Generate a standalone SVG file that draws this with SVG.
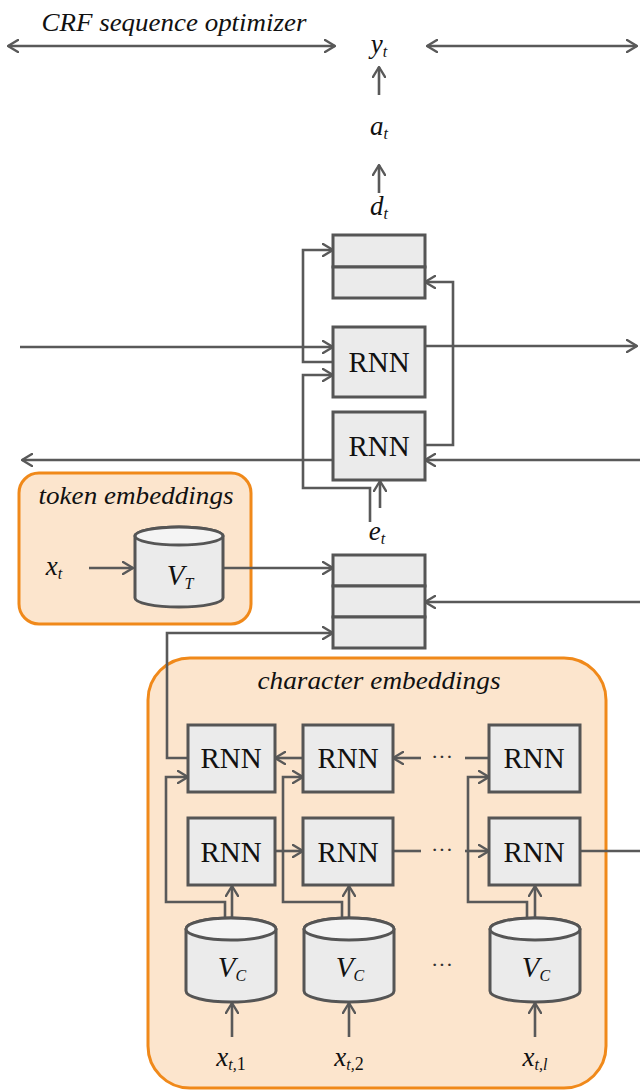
<svg xmlns="http://www.w3.org/2000/svg" width="640" height="1092" viewBox="0 0 640 1092">
<style>
.box{fill:#ebebeb;stroke:#555;stroke-width:3}
.cyl{fill:#ebebeb;stroke:#555;stroke-width:3}
.cyltop{fill:#f4f4f4;stroke:#555;stroke-width:3}
.ln{fill:none;stroke:#595959;stroke-width:2.6}
.arr{marker-end:url(#ah)}
.dbl{marker-start:url(#ah);marker-end:url(#ah)}
.grp{fill:#fce5cd;stroke:#f0891a;stroke-width:3}
.rnn{font-family:'Liberation Serif','Times New Roman',Times,serif;font-size:29px;fill:#111;text-anchor:middle}
.it{font-family:'Liberation Serif','Times New Roman',Times,serif;font-style:italic;fill:#111;text-anchor:middle}
.sub{font-size:16px}
.dots{font-family:'Liberation Serif','Times New Roman',serif;font-size:22px;fill:#333;text-anchor:middle}
</style>
<defs>
<marker id="ah" viewBox="0 0 12 14" markerWidth="12" markerHeight="14" markerUnits="userSpaceOnUse" refX="11" refY="7" orient="auto-start-reverse">
<path d="M1,1 L11,7 L1,13" fill="none" stroke="#595959" stroke-width="2.4" stroke-linecap="round" stroke-linejoin="round"/>
</marker>
</defs>
<rect width="640" height="1092" fill="#fff"/>

<g id="group-token">
<rect class="grp" x="19" y="473" width="232" height="151" rx="20"/>
<text class="it" x="136" y="504" font-size="25" textLength="195" lengthAdjust="spacingAndGlyphs">token embeddings</text>
</g>
<g id="group-char">
<rect class="grp" x="148" y="658" width="458" height="430" rx="42"/>
<text class="it" x="379" y="689" font-size="25" textLength="243" lengthAdjust="spacingAndGlyphs">character embeddings</text>
</g>

<g id="connectors">
<line class="ln dbl" x1="8" y1="46" x2="335" y2="46"/>
<line class="ln dbl" x1="427" y1="46" x2="637" y2="46"/>
<line class="ln arr" x1="379" y1="95" x2="379" y2="67"/>
<line class="ln arr" x1="379" y1="193" x2="379" y2="165"/>
<line class="ln arr" x1="20" y1="347" x2="333" y2="347"/>
<line class="ln arr" x1="425" y1="346" x2="637" y2="346"/>
<line class="ln arr" x1="640" y1="460" x2="425" y2="460"/>
<line class="ln arr" x1="333" y1="460" x2="22" y2="460"/>
<polyline class="ln arr" points="333,362 303,362 303,250 333,250"/>
<polyline class="ln arr" points="425,445 453,445 453,282 425,282"/>
<polyline class="ln arr" points="370,522 370,488 303,488 303,375 333,375"/>
<line class="ln arr" x1="380" y1="508" x2="380" y2="481"/>
<line class="ln arr" x1="89" y1="568" x2="133" y2="568"/>
<line class="ln arr" x1="224" y1="568" x2="333" y2="568"/>
<line class="ln arr" x1="640" y1="602" x2="425" y2="602"/>
<polyline class="ln arr" points="188,758 167,758 167,633 333,633"/>
<line class="ln arr" x1="303" y1="758" x2="275" y2="758"/>
<line class="ln" x1="489" y1="758" x2="465" y2="758"/>
<line class="ln arr" x1="421" y1="758" x2="393" y2="758"/>
<line class="ln arr" x1="275" y1="851" x2="303" y2="851"/>
<line class="ln" x1="393" y1="851" x2="421" y2="851"/>
<line class="ln arr" x1="465" y1="851" x2="489" y2="851"/>
<line class="ln" x1="580" y1="851" x2="640" y2="851"/>
<polyline class="ln arr" points="225,918 225,902 166,902 166,777 188,777"/>
<polyline class="ln arr" points="342,918 342,902 283,902 283,777 303,777"/>
<polyline class="ln arr" points="527,918 527,902 468,902 468,777 489,777"/>
<line class="ln arr" x1="232" y1="918" x2="232" y2="886"/>
<line class="ln arr" x1="349" y1="918" x2="349" y2="886"/>
<line class="ln arr" x1="535" y1="918" x2="535" y2="886"/>
<line class="ln arr" x1="232" y1="1037" x2="232" y2="1003"/>
<line class="ln arr" x1="349" y1="1037" x2="349" y2="1003"/>
<line class="ln arr" x1="535" y1="1037" x2="535" y2="1003"/>
</g>

<g id="crf-label">
<text class="it" x="174" y="31" font-size="26" textLength="265" lengthAdjust="spacingAndGlyphs">CRF sequence optimizer</text>
</g>
<g id="y-t"><text class="it" x="379" y="53" font-size="27">y<tspan class="sub" dy="4">t</tspan></text></g>
<g id="a-t"><text class="it" x="379" y="135" font-size="27">a<tspan class="sub" dy="4">t</tspan></text></g>
<g id="d-t">
<text class="it" x="379" y="215" font-size="27">d<tspan class="sub" dy="4">t</tspan></text>
<rect class="box" x="333" y="235" width="92" height="32"/>
<rect class="box" x="333" y="267" width="92" height="31"/>
</g>
<g id="rnn-fwd">
<rect class="box" x="333" y="327" width="92" height="70"/>
<text class="rnn" x="379" y="372">RNN</text>
</g>
<g id="rnn-bwd">
<rect class="box" x="333" y="412" width="92" height="68"/>
<text class="rnn" x="379" y="456">RNN</text>
</g>
<g id="e-t">
<text class="it" x="377" y="540" font-size="27">e<tspan class="sub" dy="4">t</tspan></text>
<rect class="box" x="333" y="555" width="92" height="31"/>
<rect class="box" x="333" y="586" width="92" height="31"/>
<rect class="box" x="333" y="617" width="92" height="31"/>
</g>
<g id="x-t"><text class="it" x="54" y="575" font-size="27">x<tspan class="sub" dy="4">t</tspan></text></g>
<g id="v-t">
<path class="cyl" d="M135,536 L135,598 A44,9 0 0 0 223,598 L223,536 A44,9 0 0 0 135,536 Z"/>
<ellipse class="cyltop" cx="179" cy="536" rx="44" ry="9"/>
<text class="it" x="180" y="585" font-size="29">V<tspan class="sub" font-size="19" dy="4">T</tspan></text>
</g>

<g id="char-rnn-b1"><rect class="box" x="188" y="725" width="87" height="67"/><text class="rnn" x="231" y="768">RNN</text></g>
<g id="char-rnn-b2"><rect class="box" x="303" y="725" width="90" height="67"/><text class="rnn" x="348" y="768">RNN</text></g>
<g id="char-rnn-bl"><rect class="box" x="489" y="725" width="91" height="67"/><text class="rnn" x="534" y="768">RNN</text></g>
<g id="char-rnn-f1"><rect class="box" x="188" y="818" width="87" height="67"/><text class="rnn" x="231" y="862">RNN</text></g>
<g id="char-rnn-f2"><rect class="box" x="303" y="818" width="90" height="67"/><text class="rnn" x="348" y="862">RNN</text></g>
<g id="char-rnn-fl"><rect class="box" x="489" y="818" width="91" height="67"/><text class="rnn" x="534" y="862">RNN</text></g>
<g id="dots">
<text class="dots" x="442" y="764">···</text>
<text class="dots" x="442" y="857">···</text>
<text class="dots" x="442" y="972">···</text>
</g>

<g id="vc-1">
<path class="cyl" d="M186,929 L186,991 A45,11 0 0 0 276,991 L276,929 A45,11 0 0 0 186,929 Z"/>
<ellipse class="cyltop" cx="231" cy="929" rx="45" ry="11"/>
<text class="it" x="232" y="977" font-size="29">V<tspan class="sub" font-size="19" dy="4">C</tspan></text>
</g>
<g id="vc-2">
<path class="cyl" d="M304,929 L304,991 A45,11 0 0 0 394,991 L394,929 A45,11 0 0 0 304,929 Z"/>
<ellipse class="cyltop" cx="349" cy="929" rx="45" ry="11"/>
<text class="it" x="350" y="977" font-size="29">V<tspan class="sub" font-size="19" dy="4">C</tspan></text>
</g>
<g id="vc-l">
<path class="cyl" d="M490,929 L490,991 A45,11 0 0 0 580,991 L580,929 A45,11 0 0 0 490,929 Z"/>
<ellipse class="cyltop" cx="535" cy="929" rx="45" ry="11"/>
<text class="it" x="536" y="977" font-size="29">V<tspan class="sub" font-size="19" dy="4">C</tspan></text>
</g>
<g id="x-t1"><text class="it" x="231" y="1066" font-size="27">x<tspan class="sub" font-size="18" dy="4">t,</tspan><tspan font-size="18" font-style="normal">1</tspan></text></g>
<g id="x-t2"><text class="it" x="349" y="1066" font-size="27">x<tspan class="sub" font-size="18" dy="4">t,</tspan><tspan font-size="18" font-style="normal">2</tspan></text></g>
<g id="x-tl"><text class="it" x="535" y="1066" font-size="27">x<tspan class="sub" font-size="18" dy="4">t,l</tspan></text></g>
</svg>
